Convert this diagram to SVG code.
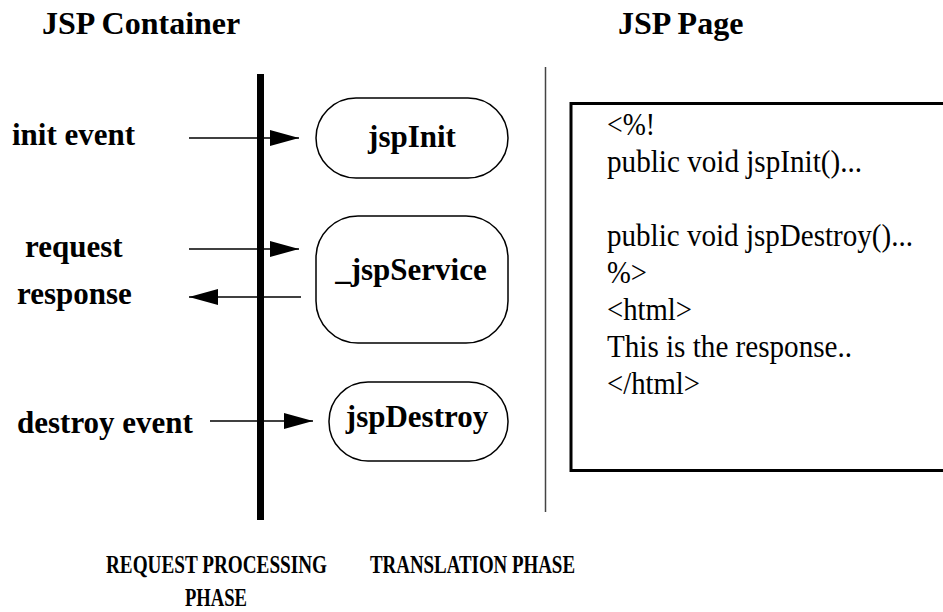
<svg xmlns="http://www.w3.org/2000/svg" width="943" height="612" viewBox="0 0 943 612">
<style>
.lbl{font-family:'Liberation Serif','Times New Roman',Times,'DejaVu Serif',serif;font-weight:bold;font-size:31px;fill:#000}
.code{font-family:'Liberation Serif','Times New Roman',Times,'DejaVu Serif',serif;font-size:32px;fill:#000}
.phase{font-family:'Liberation Serif','Times New Roman',Times,'DejaVu Serif',serif;font-weight:bold;font-size:25px;fill:#000}
.node{fill:#fff;stroke:#000;stroke-width:1.5}
.conn{stroke:#000;stroke-width:1.5;fill:none}
</style>
<defs>
<marker id="ah" markerUnits="userSpaceOnUse" markerWidth="30" markerHeight="17" refX="29" refY="8" orient="auto">
<path d="M0,0 L29,8 L0,16 z" fill="#000"/>
</marker>
</defs>
<rect width="943" height="612" fill="#fff"/>
<g id="headers">
<text class="lbl" x="42" y="34" style="font-size:32px">JSP Container</text>
<text class="lbl" x="618" y="34" style="font-size:32px">JSP Page</text>
</g>
<g id="labels">
<text class="lbl" x="12" y="145">init event</text>
<text class="lbl" x="25" y="257">request</text>
<text class="lbl" x="17" y="304">response</text>
<text class="lbl" x="17" y="433">destroy event</text>
</g>
<g id="container-bar">
<rect x="257" y="74" width="7" height="446" fill="#000"/>
</g>
<g id="divider">
<line x1="545.5" y1="67" x2="545.5" y2="512" stroke="#444" stroke-width="1.5"/>
</g>
<g id="connectors">
<line class="conn" x1="189" y1="138" x2="299" y2="138" marker-end="url(#ah)"/>
<line class="conn" x1="189" y1="249" x2="299" y2="249" marker-end="url(#ah)"/>
<line class="conn" x1="301" y1="297" x2="189" y2="297" marker-end="url(#ah)"/>
<line class="conn" x1="210" y1="421" x2="313" y2="421" marker-end="url(#ah)"/>
</g>
<g id="jspInit">
<rect class="node" x="316" y="98" width="192" height="80" rx="40" ry="40"/>
<text class="lbl" x="412" y="147" text-anchor="middle">jspInit</text>
</g>
<g id="jspService">
<rect class="node" x="316" y="216" width="192" height="127" rx="42" ry="42"/>
<text class="lbl" x="411" y="280" text-anchor="middle">_jspService</text>
</g>
<g id="jspDestroy">
<rect class="node" x="329" y="382" width="179" height="79" rx="39" ry="39"/>
<text class="lbl" x="417" y="427" text-anchor="middle">jspDestroy</text>
</g>
<g id="jspPage">
<rect x="571" y="103.5" width="380" height="367" fill="none" stroke="#000" stroke-width="3"/>
<text class="code" x="607" y="135" textLength="48" lengthAdjust="spacingAndGlyphs">&lt;%!</text>
<text class="code" x="607" y="172" textLength="255" lengthAdjust="spacingAndGlyphs">public void jspInit()...</text>
<text class="code" x="607" y="246" textLength="306" lengthAdjust="spacingAndGlyphs">public void jspDestroy()...</text>
<text class="code" x="607" y="283" textLength="40" lengthAdjust="spacingAndGlyphs">%&gt;</text>
<text class="code" x="607" y="320" textLength="85" lengthAdjust="spacingAndGlyphs">&lt;html&gt;</text>
<text class="code" x="607" y="357" textLength="245" lengthAdjust="spacingAndGlyphs">This is the response..</text>
<text class="code" x="607" y="394" textLength="93" lengthAdjust="spacingAndGlyphs">&lt;/html&gt;</text>
</g>
<g id="phases">
<text class="phase" x="106" y="573" textLength="221" lengthAdjust="spacingAndGlyphs">REQUEST PROCESSING</text>
<text class="phase" x="185" y="606" textLength="62" lengthAdjust="spacingAndGlyphs">PHASE</text>
<text class="phase" x="370" y="573" textLength="205" lengthAdjust="spacingAndGlyphs">TRANSLATION PHASE</text>
</g>
</svg>
